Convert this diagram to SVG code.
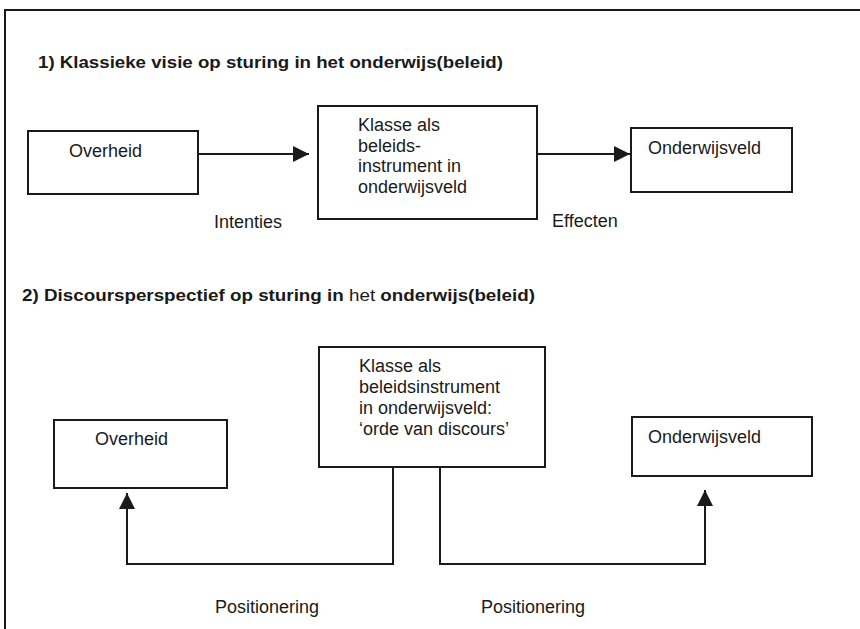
<svg xmlns="http://www.w3.org/2000/svg" width="860" height="629" viewBox="0 0 860 629">
<style>
.box{fill:#fff;stroke:#1a1a1a;stroke-width:2}
.t{font-family:"Liberation Sans",Arial,sans-serif;font-size:18px;fill:#1a1a1a}
.h{font-family:"Liberation Sans",Arial,sans-serif;font-size:17px;font-weight:bold;fill:#1a1a1a}
.n{font-weight:normal}
.ln{fill:none;stroke:#1a1a1a;stroke-width:2}
</style>
<defs>
<marker id="ah" viewBox="0 0 10 10" refX="10" refY="5" markerWidth="8" markerHeight="8" markerUnits="userSpaceOnUse" orient="auto">
<path d="M0,0 L10,5 L0,10 Z" fill="#1a1a1a"/>
</marker>
<marker id="ah2" viewBox="0 0 10 10" refX="10" refY="5" markerWidth="16" markerHeight="16" markerUnits="userSpaceOnUse" orient="auto">
<path d="M0,0 L10,5 L0,10 Z" fill="#1a1a1a"/>
</marker>
</defs>
<rect width="860" height="629" fill="#fff"/>
<path d="M5,629 V10 H860" class="ln"/>
<text class="h" x="38" y="68" textLength="465" lengthAdjust="spacingAndGlyphs">1) Klassieke visie op sturing in het onderwijs(beleid)</text>
<text class="h" x="22" y="301" textLength="513" lengthAdjust="spacingAndGlyphs">2) Discoursperspectief op sturing in <tspan class="n">het</tspan> onderwijs(beleid)</text>
<g id="overheid1">
<rect class="box" x="28" y="131" width="170" height="63"/>
<text class="t" x="69" y="157">Overheid</text>
</g>
<g id="klasse1">
<rect class="box" x="318" y="106" width="219" height="113"/>
<text class="t" x="358" y="131">Klasse als</text>
<text class="t" x="358" y="152">beleids-</text>
<text class="t" x="358" y="172">instrument in</text>
<text class="t" x="358" y="193">onderwijsveld</text>
</g>
<g id="onderwijsveld1">
<rect class="box" x="631" y="128" width="161" height="64"/>
<text class="t" x="648" y="154">Onderwijsveld</text>
</g>
<g id="overheid2">
<rect class="box" x="54" y="420" width="173" height="68"/>
<text class="t" x="95" y="445">Overheid</text>
</g>
<g id="klasse2">
<rect class="box" x="319" y="347" width="226" height="120"/>
<text class="t" x="359" y="372">Klasse als</text>
<text class="t" x="359" y="393">beleidsinstrument</text>
<text class="t" x="359" y="414">in onderwijsveld:</text>
<text class="t" x="359" y="435">‘orde van discours’</text>
</g>
<g id="onderwijsveld2">
<rect class="box" x="632" y="417" width="180" height="59"/>
<text class="t" x="648" y="443">Onderwijsveld</text>
</g>
<g id="connectors">
<line class="ln" x1="198" y1="154" x2="309" y2="154" marker-end="url(#ah2)"/>
<line class="ln" x1="537" y1="154" x2="630" y2="154" marker-end="url(#ah2)"/>
<polyline class="ln" points="393,467 393,564 127,564 127,493" marker-end="url(#ah2)"/>
<polyline class="ln" points="440,467 440,564 705,564 705,490" marker-end="url(#ah2)"/>
</g>
<text class="t" x="214" y="228">Intenties</text>
<text class="t" x="552" y="227">Effecten</text>
<text class="t" x="215" y="613">Positionering</text>
<text class="t" x="481" y="613">Positionering</text>
</svg>
